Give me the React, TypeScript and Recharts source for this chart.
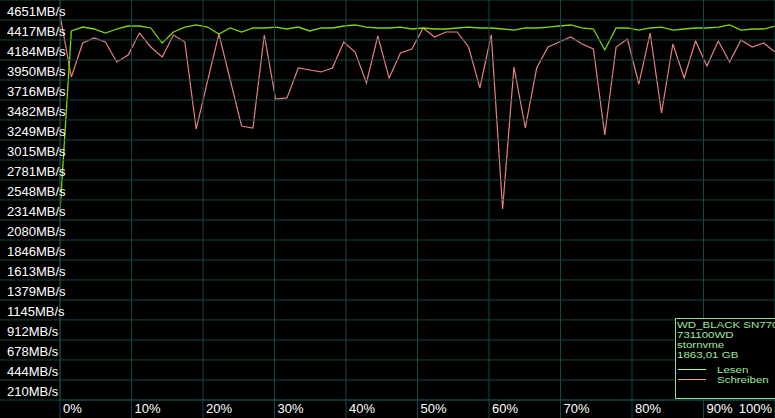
import { LineChart, Line, XAxis, YAxis } from 'recharts';

// Lesen (read) speed in MB/s, 64 samples across the drive
const readSpeeds = [
  2173, 4289, 4335, 4312, 4265, 4312, 4347, 4347, 4324, 4148, 4277, 4335, 4359, 4335, 4254, 4324,
  4277, 4324, 4324, 4335, 4312, 4335, 4289, 4324, 4324, 4347, 4359, 4335, 4324, 4324, 4335, 4312,
  4324, 4312, 4312, 4324, 4335, 4324, 4324, 4312, 4300, 4324, 4324, 4335, 4347, 4359, 4324, 4312,
  4067, 4324, 4324, 4300, 4324, 4335, 4300, 4312, 4324, 4324, 4335, 4359, 4300, 4312, 4312, 4347,
];

// Schreiben (write) speed in MB/s
const writeSpeeds = [
  4476, 3751, 4148, 4207, 4160, 3926, 4008, 4265, 4102, 3985, 4242, 4160, 3143, 3704, 4254, 3716,
  3178, 3155, 4242, 3494, 3506, 3856, 3833, 3810, 3856, 4160, 4043, 3681, 4230, 3739, 4032, 4078,
  4324, 4219, 4277, 4277, 4102, 3623, 4242, 2208, 3868, 3155, 3856, 4102, 4160, 4219, 4137, 4078,
  3073, 4102, 4195, 3669, 4265, 3330, 4137, 3739, 4172, 3880, 4172, 3926, 4184, 4102, 4148, 4043,
];

const yLabels = [
  4651, 4417, 4184, 3950, 3716, 3482, 3249, 3015, 2781, 2548,
  2314, 2080, 1846, 1613, 1379, 1145, 912, 678, 444, 210,
];
const yBottom = -24;

const xLabels = [0, 10, 20, 30, 40, 50, 60, 70, 80, 90, 100];

const legendLines = ['WD_BLACK SN770M', '731100WD', 'stornvme', '1863,01 GB'];

const data = readSpeeds.map((r, i) => ({
  pct: (i * 100) / (readSpeeds.length - 1),
  lesen: r,
  schreiben: writeSpeeds[i],
}));

const W = 775;
const H = 418;
const GRID = '#174646';
const FONT = '"Liberation Sans", Arial, sans-serif';

const YTick = (props: any) => {
  const { y, payload } = props;
  const v = payload.value;
  return (
    <g>
      <line x1={0} x2={W} y1={y} y2={y} stroke={GRID} strokeWidth={1} />
      {v !== yBottom && (
        <text x={7} y={y + 16} fill="#fff" fontSize={13} fontFamily={FONT}>
          {v}MB/s
        </text>
      )}
    </g>
  );
};

const XTick = (props: any) => {
  const { x, payload } = props;
  const v = payload.value;
  const last = v === 100;
  return (
    <g>
      <line x1={x} x2={x} y1={0} y2={H} stroke={GRID} strokeWidth={1} />
      <text
        x={last ? W - 3 : x + 3}
        y={413}
        textAnchor={last ? 'end' : 'start'}
        fill="#fff"
        fontSize={13}
        fontFamily={FONT}
      >
        {v}%
      </text>
    </g>
  );
};

// legend box, drawn as plain svg on top of the chart
const InfoBox = () => {
  const left = 675;
  const top = 318;
  return (
    <svg width={W} height={H} style={{ position: 'absolute', left: 0, top: 0 }}>
      <rect x={left + 0.5} y={top + 0.5} width={120} height={80} fill="#000" stroke="#8fdc8f" />
      <g fill="#9ee89e" fontFamily={FONT} fontSize={11.5}>
        {legendLines.map((t, i) => (
          <text key={t} transform={`translate(${left + 2}, ${top + 10 + i * 10}) scale(1, 0.82)`}>
            {t}
          </text>
        ))}
        <text transform={`translate(${left + 42}, ${top + 55}) scale(1, 0.82)`}>Lesen</text>
        <text transform={`translate(${left + 42}, ${top + 65}) scale(1, 0.82)`}>Schreiben</text>
      </g>
      <line x1={left + 3} x2={left + 31} y1={top + 51.5} y2={top + 51.5} stroke="#c8ff50" />
      <line x1={left + 3} x2={left + 31} y1={top + 61.5} y2={top + 61.5} stroke="#e8a0a0" />
    </svg>
  );
};

export default function App() {
  return (
    <div style={{ position: 'absolute', left: 0, top: 0, width: W, height: H, background: '#000', overflow: 'hidden' }}>
      <LineChart width={W} height={H} data={data} margin={{ top: 0, right: 0, bottom: 0, left: 0 }}>
        <XAxis
          dataKey="pct"
          type="number"
          domain={[0, 100]}
          ticks={xLabels}
          interval={0}
          height={18}
          tickLine={false}
          axisLine={{ stroke: GRID }}
          tick={<XTick />}
        />
        <YAxis
          type="number"
          domain={[yBottom, yLabels[0]]}
          ticks={[...yLabels, yBottom]}
          interval={0}
          width={60}
          tickLine={false}
          axisLine={{ stroke: GRID }}
          tick={<YTick />}
        />
        <Line type="linear" dataKey="schreiben" stroke="#e88080" strokeWidth={1.2} dot={false} isAnimationActive={false} />
        <Line type="linear" dataKey="lesen" stroke="#7fd800" strokeWidth={1.3} dot={false} isAnimationActive={false} />
      </LineChart>
      <InfoBox />
    </div>
  );
}
